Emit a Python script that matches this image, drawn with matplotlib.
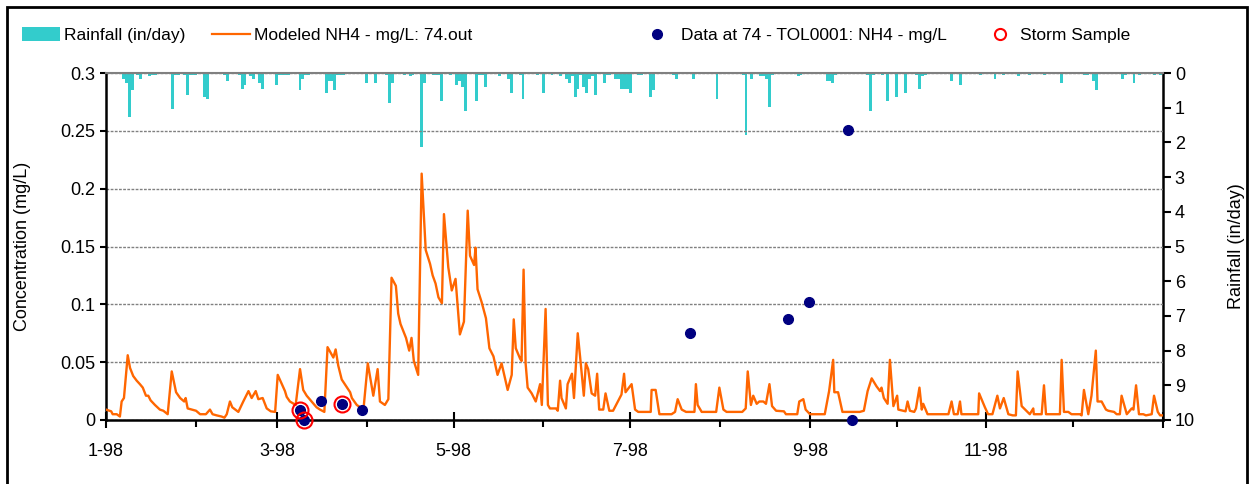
import matplotlib
matplotlib.use('Agg')
import matplotlib.pyplot as plt
from matplotlib.patches import Rectangle, Patch
from matplotlib.lines import Line2D

plt.rcParams['font.family'] = ['Liberation Sans', 'DejaVu Sans']

# ---------------- data (day of year 1998, 0 = Jan 1) ----------------
rain_day = [6, 7, 8, 9, 11, 12, 15, 16, 17, 19, 23, 24, 25, 27, 28, 29, 30, 31,
            34, 35, 41, 42, 46, 47, 48, 50, 51, 53, 54, 59, 60, 61, 62, 63,
            67, 68, 69, 70, 76, 77, 78, 79, 80, 81, 82, 90, 93, 97, 98, 99,
            103, 105, 106, 109, 110, 113, 114, 115, 116, 119, 121, 122, 123, 124,
            128, 129, 130, 131, 136, 139, 140, 143, 144, 149, 151, 154, 157,
            159, 160, 161, 162, 163, 164, 165, 166, 167, 168, 169, 172, 173, 174,
            176, 177, 178, 179, 180, 181, 184, 185, 188, 189, 196, 197, 203, 211,
            220, 221, 223, 226, 227, 228, 229, 230, 239, 240,
            249, 250, 251, 252, 263, 264, 265, 268, 270, 273, 276, 280, 281, 282,
            283, 292, 295, 302, 307, 310, 315, 319, 324, 330, 338, 339, 341, 342,
            351, 352, 355, 357, 362, 364]
rain_in = [0.16, 0.28, 1.27, 0.50, 0.05, 0.16, 0.10, 0.05, 0.05, 0.04, 1.03, 0.05, 0.05, 0.05, 0.64, 0.05, 0.05, 0.05,
           0.68, 0.74, 0.05, 0.22, 0.05, 0.45, 0.34, 0.10, 0.16, 0.28, 0.45, 0.34, 0.05, 0.05, 0.05, 0.05,
           0.50, 0.16, 0.05, 0.05, 0.57, 0.22, 0.22, 0.50, 0.05, 0.05, 0.05, 0.28, 0.28, 0.05, 0.86, 0.28,
           0.05, 0.10, 0.05, 2.12, 0.28, 0.05, 0.05, 0.05, 0.80, 0.05, 0.34, 0.22, 0.39, 1.09,
           0.80, 0.05, 0.05, 0.39, 0.10, 0.16, 0.57, 0.05, 0.74, 0.05, 0.57, 0.05, 0.10,
           0.16, 0.28, 0.10, 0.68, 0.45, 0.05, 0.39, 0.57, 0.16, 0.10, 0.63, 0.28, 0.05, 0.05,
           0.16, 0.16, 0.45, 0.45, 0.45, 0.57, 0.05, 0.05, 0.68, 0.50, 0.05, 0.16, 0.16, 0.74,
           0.05, 1.78, 0.16, 0.10, 0.10, 0.16, 0.97, 0.05, 0.10, 0.05,
           0.22, 0.22, 0.28, 0.05, 0.05, 1.09, 0.05, 0.05, 0.80, 0.68, 0.57, 0.05, 0.45, 0.10,
           0.05, 0.22, 0.34, 0.05, 0.16, 0.05, 0.10, 0.05, 0.05, 0.28, 0.05, 0.05, 0.22, 0.50,
           0.16, 0.05, 0.28, 0.05, 0.05, 0.05]

model_day = [0, 1.8, 2.3, 3.7, 4.8, 5.4, 6.2, 7.5, 8.3, 9.4, 10.6, 11.7, 12.7, 13.8, 14.6, 15.4,
             16.9, 18.6, 19.8, 21.3, 22.7, 24.2, 25.6, 27.0, 27.5, 28.2, 29.6, 31.1, 32.5, 34.5,
             35.9, 36.8, 38.2, 39.9, 40.9, 41.7, 42.8, 43.6, 45.7, 47.4, 49.2, 50.3, 51.7, 52.6,
             54.1, 55.5, 56.9, 58.4, 59.3, 61.8, 62.4, 63.5, 65.5, 67.0, 68.1, 69.3, 71.0, 72.7,
             73.9, 75.4, 76.5, 78.5, 79.3, 80.2, 81.4, 83.0, 84.3, 84.9, 86.6, 88.3, 88.9, 90.4,
             92.3, 93.8, 94.6, 96.3, 97.5, 98.6, 100.1, 100.9, 101.7, 103.6, 104.7, 105.5, 106.3,
             107.8, 109.0, 110.4, 111.9, 112.8, 113.8, 114.8, 116.0, 116.7, 118.2, 119.4, 120.7,
             122.2, 123.6, 124.9, 125.7, 127.1, 127.6, 128.3, 129.7, 131.2, 132.4, 133.8, 135.2,
             136.6, 138.7, 140.1, 140.8, 141.5, 143.0, 143.5, 144.2, 144.9, 145.6, 147.0, 148.4,
             149.9, 150.5, 151.8, 152.6, 153.3, 155.4, 156.0, 156.8, 157.3, 158.8, 159.4, 160.9,
             161.6, 162.9, 163.7, 165.0, 165.7, 166.5, 167.7, 168.9, 169.6, 170.3, 171.7, 172.5,
             173.8, 175.1, 178.0, 178.9, 179.4, 181.5, 182.7, 183.8, 188.1, 188.4, 189.8, 191.1,
             195.3, 196.5, 197.4, 198.8, 200.3, 203.2, 203.7, 204.3, 205.7, 210.7, 211.8, 213.2,
             214.3, 219.7, 220.9, 221.6, 222.7, 223.5, 224.7, 225.6, 227.0, 227.9, 229.1, 230.0,
             231.4, 234.1, 234.8, 238.7, 239.4, 240.8, 241.6, 243.1, 248.2, 249.7, 251.1, 251.5,
             252.8, 254.3, 260.3, 261.7, 263.0, 264.4, 266.1, 267.3, 267.8, 268.6, 269.9, 270.7,
             271.9, 273.2, 273.6, 275.3, 276.1, 276.8, 277.6, 279.1, 279.7, 280.9, 281.7, 282.2,
             283.7, 290.9, 292.0, 292.8, 294.1, 294.9, 295.4, 301.2, 301.5, 303.5, 304.6, 306.1,
             307.8, 308.7, 310.0, 311.6, 313.1, 314.2, 314.8, 316.2, 319.0, 320.2, 320.4, 323.1,
             323.9, 324.6, 329.4, 330.0, 330.8, 332.3, 333.4, 336.3, 336.9, 337.7, 339.2, 340.3,
             341.8, 342.4, 343.8, 345.3, 346.1, 348.1, 349.0, 350.1, 350.7, 352.5, 354.2, 354.8,
             355.7, 356.7, 358.2, 359.1, 361.1, 361.9, 363.2, 364.0, 364.9]
model_val = [0.009, 0.0075, 0.005, 0.005, 0.003, 0.016, 0.019, 0.056, 0.045, 0.038, 0.034, 0.031, 0.028, 0.021, 0.021, 0.017,
             0.013, 0.009, 0.008, 0.005, 0.042, 0.024, 0.019, 0.016, 0.019, 0.010, 0.009, 0.008, 0.005, 0.005,
             0.009, 0.005, 0.004, 0.003, 0.002, 0.005, 0.016, 0.011, 0.007, 0.016, 0.025, 0.019, 0.025, 0.018,
             0.019, 0.010, 0.0075, 0.007, 0.039, 0.025, 0.020, 0.016, 0.013, 0.044, 0.026, 0.021, 0.016, 0.011,
             0.009, 0.007, 0.063, 0.054, 0.061, 0.047, 0.035, 0.029, 0.024, 0.019, 0.013, 0.010, 0.009, 0.049,
             0.021, 0.044, 0.016, 0.013, 0.018, 0.123, 0.116, 0.092, 0.083, 0.071, 0.060, 0.071, 0.051,
             0.039, 0.213, 0.147, 0.135, 0.125, 0.118, 0.106, 0.101, 0.178, 0.132, 0.112, 0.122,
             0.074, 0.085, 0.181, 0.142, 0.134, 0.149, 0.113, 0.102, 0.088, 0.062, 0.055, 0.039,
             0.049, 0.026, 0.039, 0.087, 0.062, 0.053, 0.051, 0.130, 0.049, 0.028, 0.023, 0.016,
             0.031, 0.013, 0.096, 0.013, 0.010, 0.010, 0.008, 0.034, 0.019, 0.010, 0.031, 0.040,
             0.019, 0.075, 0.055, 0.021, 0.049, 0.044, 0.023, 0.021, 0.040, 0.009, 0.009, 0.023,
             0.008, 0.008, 0.022, 0.040, 0.024, 0.031, 0.009, 0.007, 0.007, 0.026, 0.026, 0.005,
             0.005, 0.007, 0.018, 0.009, 0.007, 0.007, 0.031, 0.013, 0.007, 0.007, 0.028, 0.009,
             0.007, 0.007, 0.010, 0.042, 0.013, 0.021, 0.014, 0.016, 0.016, 0.014, 0.031, 0.012,
             0.008, 0.0075, 0.005, 0.005, 0.016, 0.018, 0.009, 0.005, 0.005, 0.025, 0.052, 0.024,
             0.024, 0.007, 0.007, 0.008, 0.025, 0.036, 0.029, 0.025, 0.028, 0.019, 0.014, 0.052,
             0.012, 0.021, 0.009, 0.008, 0.0075, 0.016, 0.008, 0.007, 0.010, 0.028, 0.009, 0.014,
             0.005, 0.005, 0.016, 0.005, 0.005, 0.016, 0.005, 0.005, 0.023, 0.011, 0.005, 0.005,
             0.021, 0.010, 0.019, 0.005, 0.004, 0.004, 0.042, 0.012, 0.005, 0.010, 0.005, 0.005,
             0.030, 0.005, 0.005, 0.052, 0.007, 0.007, 0.005, 0.005, 0.004, 0.026, 0.005, 0.021,
             0.060, 0.016, 0.016, 0.009, 0.008, 0.007, 0.005, 0.005, 0.021, 0.005, 0.010, 0.009,
             0.030, 0.005, 0.005, 0.004, 0.005, 0.021, 0.007, 0.004, 0.004]

obs_day = [66.9, 68.3, 74.4, 81.6, 88.4, 201.5, 235.4, 242.9, 256.3, 257.5]
obs_val = [0.009, 0.000, 0.016, 0.014, 0.009, 0.075, 0.087, 0.102, 0.251, 0.000]

storm_day = [66.9, 68.3, 81.6]
storm_val = [0.009, 0.000, 0.014]

month_start = [0, 31, 59, 90, 120, 151, 181, 212, 243, 273, 304, 334, 365]
major_ticks = [0, 59, 120, 181, 243, 304, 365]
major_labels = ['1-98', '3-98', '5-98', '7-98', '9-98', '11-98', '']
conc_ticks = [0, 0.05, 0.1, 0.15, 0.2, 0.25, 0.3]
conc_labels = ['0', '0.05', '0.1', '0.15', '0.2', '0.25', '0.3']
rain_ticks = list(range(0, 11))

# ---------------- figure ----------------
W, H = 1251, 484
fig = plt.figure(figsize=(W / 100, H / 100), dpi=100)
ax = fig.add_axes([106 / W, 1 - 420 / H, (1163 - 106) / W, (420 - 73) / H])
ax2 = ax.twinx()

FS = 13
ax2.bar(rain_day, rain_in, width=1.0, align='center', color='#33CCCC', linewidth=0, zorder=2)
ax2.set_ylim(10, 0)
ax2.set_yticks(rain_ticks)
ax2.tick_params(axis='y', direction='out', length=5.5, width=1.5, labelsize=FS, pad=3)
ax2.set_ylabel('Rainfall (in/day)', fontsize=FS, labelpad=24)

ax.set_zorder(ax2.get_zorder() + 1)
ax.patch.set_visible(False)

ax.plot(model_day, model_val, color='#FF6600', lw=1.7, zorder=3)
ax.plot(obs_day, obs_val, 'o', color='#000080', ms=7, zorder=4, clip_on=False)
ax.plot(storm_day, storm_val, 'o', mfc='none', mec='#FF0000', mew=1.5, ms=11.5, zorder=5, clip_on=False)

ax.set_xlim(0, 365)
ax.set_ylim(0, 0.3)
ax.set_xticks(major_ticks, labels=major_labels)
ax.set_xticks(month_start, minor=True)
ax.tick_params(axis='x', which='major', direction='inout', length=11, width=1.5, labelsize=FS, pad=11)
ax.tick_params(axis='x', which='minor', direction='out', length=5, width=1.5)
ax.set_yticks(conc_ticks, labels=conc_labels)
ax.tick_params(axis='y', direction='out', length=4.5, width=1.5, labelsize=FS, pad=3)
ax.set_ylabel('Concentration (mg/L)', fontsize=FS, labelpad=21)
ax.yaxis.grid(True, linestyle=(0, (2, 1)), color='#808080', lw=1)
ax.set_axisbelow(True)

for s in ['left', 'bottom']:
    ax.spines[s].set_color('black')
    ax.spines[s].set_linewidth(1.8)
ax.spines['right'].set_visible(False)
ax.spines['top'].set_color('#808080')
ax.spines['top'].set_linewidth(1.5)
ax2.spines['right'].set_color('black')
ax2.spines['right'].set_linewidth(1.8)
for s in ['left', 'bottom', 'top']:
    ax2.spines[s].set_visible(False)

# ---------------- legend ----------------
LFS = 12.5
fs_px = LFS * 100 / 72
hl = 38 / fs_px
yleg = 1 - 35 / H
leg_items = [
    (Patch(facecolor='#33CCCC', edgecolor='none'), 'Rainfall (in/day)', 22, 0.25),
    (Line2D([], [], color='#FF6600', lw=1.6), 'Modeled NH4 - mg/L: 74.out', 212, 0.25),
    (Line2D([], [], ls='none', marker='o', color='#000080', ms=7), 'Data at 74 - TOL0001: NH4 - mg/L', 638, 0.3),
    (Line2D([], [], ls='none', marker='o', mfc='none', mec='#FF0000', mew=1.5, ms=8), 'Storm Sample', 981, 0.05),
]
for h, lab, x0, pad in leg_items:
    lg = fig.legend([h], [lab], loc='center left', bbox_to_anchor=(x0 / W, yleg),
                    frameon=False, fontsize=LFS, handlelength=hl, handleheight=0.85,
                    handletextpad=pad, borderpad=0, borderaxespad=0)

# figure border (no bottom edge visible)
fig.patches.append(Rectangle((7 / W, -0.05), (1247 - 7) / W, (477 / H) + 0.05,
                             transform=fig.transFigure, fill=False, edgecolor='black',
                             linewidth=2, zorder=10))

fig.savefig('out.png', dpi=100)
